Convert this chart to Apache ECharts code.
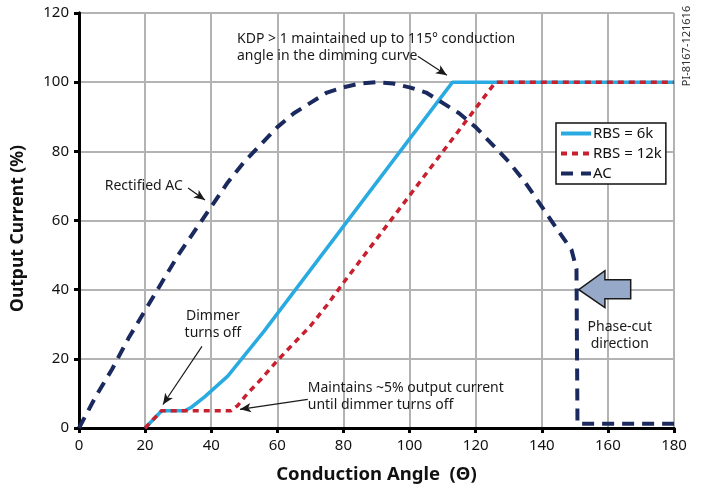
<!DOCTYPE html>
<html>
<head>
<meta charset="utf-8">
<script src="https://cdn.jsdelivr.net/npm/echarts@6/dist/echarts.min.js"></script>
<style>
  html, body { margin: 0; padding: 0; background: #fff; }
  #main { width: 703px; height: 487px; }
</style>
</head>
<body>
<div id="main"></div>
<script>
// tick settings
var xTicks = { min: 0, max: 180, step: 20 };
var yTicks = { min: 0, max: 120, step: 20 };

// RBS = 6k  [angle, output %]
var rbs6k = [[20, 0], [25, 5], [32, 5], [34, 6], [38, 9], [45, 15], [56, 28], [113, 100], [180, 100]];
// RBS = 12k
var rbs12k = [[20, 0], [25, 5], [46, 5], [48, 6.5], [51, 10], [55, 14], [60, 19.5], [65, 24.5],
              [70, 29.5], [75, 35.5], [80, 42], [126, 100], [180, 100]];
// rectified AC, read every 5 degrees, then cut off
var acData = [[0, 0], [5, 9], [10, 17], [15, 26], [20, 34], [25, 42], [30, 50], [35, 57], [40, 64],
              [45, 71], [50, 77], [55, 82], [60, 87], [65, 91], [70, 94], [75, 97], [80, 98.5],
              [85, 99.6], [90, 100], [95, 99.6], [100, 98.5], [105, 97], [110, 94], [115, 91],
              [120, 87], [125, 82], [130, 77], [135, 71], [140, 64], [145, 57], [149, 51.5],
              [150.5, 46], [150.8, 1.2], [180, 1.2]];

// annotation arrows: [from, to] in data coords
var arrows = [
  [[102.5, 107.5], [111.3, 102]],
  [[33, 69.4], [38.1, 65.9]],
  [[37.2, 23.6], [25.4, 6.8]],
  [[69.2, 8.3], [48.7, 5.4]]
];

var myChart = echarts.init(document.getElementById('main'));
var FONT = '"Noto Sans", "DejaVu Sans", sans-serif';

var option = {
    backgroundColor: '#fff',
    animation: false,
    grid: { left: 79, right: 29, top: 13, bottom: 59, outerBoundsMode: 'none' },
    legend: {
        left: 556,
        top: 123,
        orient: 'vertical',
        data: ['RBS = 6k', 'RBS = 12k', 'AC'],
        itemWidth: 30,
        itemHeight: 14,
        itemGap: 5,
        padding: [3, 4, 3, 3],
        backgroundColor: '#fff',
        borderColor: '#111',
        borderWidth: 1.5,
        borderRadius: 0,
        itemStyle: { opacity: 0 },
        lineStyle: { width: 4 },
        textStyle: { fontSize: 15, color: '#111', fontFamily: FONT, padding: [0, 0, 0, -3] }
    },
    xAxis: [{
        type: 'value',
        min: xTicks.min, max: xTicks.max, interval: xTicks.step,
        name: 'Conduction Angle  (\u0398)',
        nameLocation: 'middle',
        nameGap: 37,
        nameTextStyle: { fontSize: 18.5, fontWeight: 'bold', color: '#111', fontFamily: FONT },
        axisLine: { lineStyle: { color: '#000', width: 3 } },
        axisTick: { length: 5, lineStyle: { color: '#000', width: 3 } },
        axisLabel: { fontSize: 15, color: '#111', margin: 10, fontFamily: FONT },
        splitLine: { lineStyle: { color: '#b3b3b3', width: 2 } }
    }, {
        type: 'value', position: 'top',
        min: xTicks.min, max: xTicks.max,
        axisLine: { lineStyle: { color: '#000', width: 3 } },
        axisTick: { show: false }, axisLabel: { show: false }, splitLine: { show: false }
    }],
    yAxis: [{
        type: 'value',
        min: yTicks.min, max: yTicks.max, interval: yTicks.step,
        name: 'Output Current (%)',
        nameLocation: 'middle',
        nameGap: 52,
        nameTextStyle: { fontSize: 17.5, fontWeight: 'bold', color: '#111', fontFamily: FONT, padding: [0, 16, 0, 0] },
        axisLine: { show: true, lineStyle: { color: '#000', width: 3 } },
        axisTick: { show: true, length: 5, lineStyle: { color: '#000', width: 3 } },
        axisLabel: { fontSize: 15, color: '#111', margin: 10, fontFamily: FONT },
        splitLine: { lineStyle: { color: '#b3b3b3', width: 2 } }
    }, {
        type: 'value', position: 'right',
        min: yTicks.min, max: yTicks.max,
        axisLine: { show: true, lineStyle: { color: '#000', width: 3 } },
        axisTick: { show: false }, axisLabel: { show: false }, splitLine: { show: false }
    }],
    series: [{
        name: 'RBS = 6k',
        type: 'line',
        data: rbs6k,
        symbol: 'none',
        itemStyle: { color: '#29aae1' },
        lineStyle: { color: '#29aae1', width: 3.5 },
        z: 2
    }, {
        name: 'AC',
        type: 'line',
        data: acData,
        symbol: 'none',
        itemStyle: { color: '#1b2a5e' },
        lineStyle: { color: '#1b2a5e', width: 4, type: [12, 8] },
        z: 3,
        markLine: {
            silent: true,
            symbol: ['none', 'arrow'],
            symbolSize: [7, 11],
            label: { show: false },
            lineStyle: { color: '#1a1a1a', width: 1.2, type: 'solid' },
            data: arrows.map(function (a) {
                return [{ coord: a[0] }, { coord: a[1] }];
            })
        }
    }, {
        name: 'RBS = 12k',
        type: 'line',
        data: rbs12k,
        symbol: 'none',
        itemStyle: { color: '#c8202f' },
        lineStyle: { color: '#c8202f', width: 3.5, type: [6, 5] },
        z: 4
    }]
};
myChart.setOption(option);

// text notes placed from data coords
function px(p) {
    return myChart.convertToPixel({ xAxisIndex: 0, yAxisIndex: 0 }, p);
}
function note(p, text, align) {
    var q = px(p);
    return {
        type: 'text', x: q[0], y: q[1], z: 100,
        style: {
            text: text, fill: '#1a1a1a', font: '14px ' + FONT,
            align: align || 'left', verticalAlign: 'middle', lineHeight: 17
        }
    };
}
var blockArrow = [[151.2, 40], [159.1, 45.5], [159.1, 42.9], [166.9, 42.9],
                  [166.9, 37.4], [159.1, 37.4], [159.1, 34.8]].map(px);

myChart.setOption({
    graphic: [
        note([47.8, 110], 'KDP > 1 maintained up to 115\u00b0 conduction\nangle in the dimming curve'),
        note([31.4, 70], 'Rectified AC', 'right'),
        note([40.5, 29.8], 'Dimmer\nturns off', 'center'),
        note([69.2, 9.2], 'Maintains ~5% output current\nuntil dimmer turns off'),
        note([163.6, 26.7], 'Phase-cut\ndirection', 'center'),
        {
            type: 'polygon', z: 100,
            shape: { points: blockArrow },
            style: { fill: '#97a9c9', stroke: '#1a1a1a', lineWidth: 1.5 }
        },
        {
            type: 'text', x: 687, y: 46, rotation: Math.PI / 2, z: 100,
            style: {
                text: 'PI-8167-121616', fill: '#333', font: '11px ' + FONT,
                align: 'center', verticalAlign: 'middle'
            }
        }
    ]
});
</script>
</body>
</html>
